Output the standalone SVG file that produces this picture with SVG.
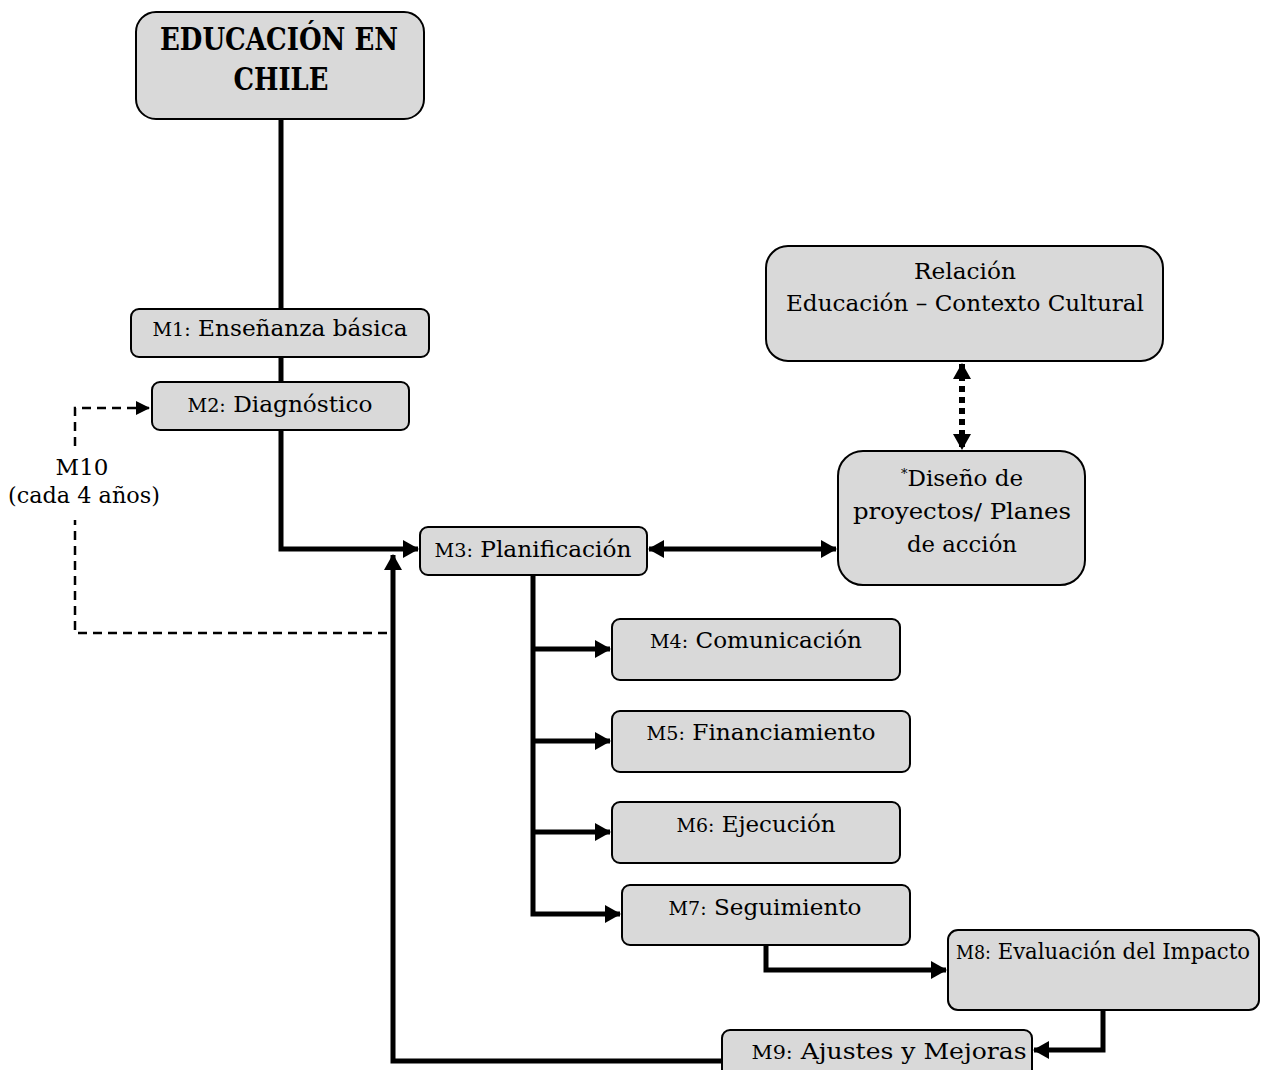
<svg xmlns="http://www.w3.org/2000/svg" width="1264" height="1070" viewBox="0 0 1264 1070">
<style>
.box{fill:#d9d9d9;stroke:#000;stroke-width:2}
.t{font-family:"DejaVu Serif","Liberation Serif",serif;font-size:23px;fill:#000;text-anchor:middle}
.p{font-size:19px}
.title{font-family:"DejaVu Serif Condensed","DejaVu Serif","Liberation Serif",serif;font-size:31px;font-weight:bold;text-anchor:middle}
.c{fill:none;stroke:#000;stroke-width:5}
.d{fill:none;stroke:#000;stroke-width:2.5;stroke-dasharray:9 6}
.dot{fill:none;stroke:#000;stroke-width:6;stroke-dasharray:6 5}
</style>
<defs>
<marker id="a" markerUnits="userSpaceOnUse" markerWidth="16" markerHeight="18" refX="15" refY="9" orient="auto-start-reverse">
<path d="M0,0 L16,9 L0,18 Z" fill="#000"/>
</marker>
<marker id="s" markerUnits="userSpaceOnUse" markerWidth="14" markerHeight="14" refX="13" refY="7" orient="auto-start-reverse">
<path d="M0,0 L14,7 L0,14 Z" fill="#000"/>
</marker>
</defs>
<g id="connectors">
<path class="c" d="M281,119 V310"/>
<path class="c" d="M281,357 V383"/>
<path class="c" d="M281,430 V549 H418" marker-end="url(#a)"/>
<path class="c" d="M649,549 H836" marker-start="url(#a)" marker-end="url(#a)"/>
<path class="dot" d="M962,364 V449" marker-start="url(#a)" marker-end="url(#a)"/>
<path class="c" d="M533,575 V914 H620" marker-end="url(#a)"/>
<path class="c" d="M533,649 H610" marker-end="url(#a)"/>
<path class="c" d="M533,741 H610" marker-end="url(#a)"/>
<path class="c" d="M533,832 H610" marker-end="url(#a)"/>
<path class="c" d="M766,945 V970 H946" marker-end="url(#a)"/>
<path class="c" d="M1103,1010 V1050 H1034" marker-end="url(#a)"/>
<path class="c" d="M722,1061 H393 V555" marker-end="url(#a)"/>
<path class="d" d="M387,633 H75 V520"/>
<path class="d" d="M75,446 V408 H149" marker-end="url(#s)"/>
<path d="M153,410 L168,413 L158,422 Z" fill="#000"/>
</g>
<g id="n-title">
<rect class="box" x="136" y="12" width="288" height="107" rx="20"/>
<text class="title" x="279" y="50" textLength="238" lengthAdjust="spacingAndGlyphs">EDUCACIÓN EN</text>
<text class="title" x="281" y="90" textLength="95" lengthAdjust="spacingAndGlyphs">CHILE</text>
</g>
<g id="n-m1">
<rect class="box" x="131" y="309" width="298" height="48" rx="8"/>
<text class="t" x="280" y="336" textLength="255" lengthAdjust="spacingAndGlyphs"><tspan class="p">M1:</tspan> Enseñanza básica</text>
</g>
<g id="n-m2">
<rect class="box" x="152" y="382" width="257" height="48" rx="8"/>
<text class="t" x="280" y="412" textLength="185" lengthAdjust="spacingAndGlyphs"><tspan class="p">M2:</tspan> Diagnóstico</text>
</g>
<g id="n-m3">
<rect class="box" x="420" y="527" width="227" height="48" rx="8"/>
<text class="t" x="533" y="557" textLength="197" lengthAdjust="spacingAndGlyphs"><tspan class="p">M3:</tspan> Planificación</text>
</g>
<g id="n-relacion">
<rect class="box" x="766" y="246" width="397" height="115" rx="22"/>
<text class="t" x="965" y="279" textLength="102" lengthAdjust="spacingAndGlyphs">Relación</text>
<text class="t" x="965" y="311" textLength="358" lengthAdjust="spacingAndGlyphs">Educación – Contexto Cultural</text>
</g>
<g id="n-diseno">
<rect class="box" x="838" y="451" width="247" height="134" rx="25"/>
<text class="t" x="962" y="486"><tspan font-size="13" dy="-8">*</tspan><tspan dy="8">Diseño de</tspan></text>
<text class="t" x="962" y="519" textLength="218" lengthAdjust="spacingAndGlyphs">proyectos/ Planes</text>
<text class="t" x="962" y="552" textLength="110" lengthAdjust="spacingAndGlyphs">de acción</text>
</g>
<g id="n-m4">
<rect class="box" x="612" y="619" width="288" height="61" rx="8"/>
<text class="t" x="756" y="648" textLength="212" lengthAdjust="spacingAndGlyphs"><tspan class="p">M4:</tspan> Comunicación</text>
</g>
<g id="n-m5">
<rect class="box" x="612" y="711" width="298" height="61" rx="8"/>
<text class="t" x="761" y="740" textLength="229" lengthAdjust="spacingAndGlyphs"><tspan class="p">M5:</tspan> Financiamiento</text>
</g>
<g id="n-m6">
<rect class="box" x="612" y="802" width="288" height="61" rx="8"/>
<text class="t" x="756" y="832" textLength="159" lengthAdjust="spacingAndGlyphs"><tspan class="p">M6:</tspan> Ejecución</text>
</g>
<g id="n-m7">
<rect class="box" x="622" y="885" width="288" height="60" rx="8"/>
<text class="t" x="765" y="915" textLength="193" lengthAdjust="spacingAndGlyphs"><tspan class="p">M7:</tspan> Seguimiento</text>
</g>
<g id="n-m8">
<rect class="box" x="948" y="930" width="311" height="80" rx="10"/>
<text class="t" x="1103" y="959" font-size="24" textLength="294" lengthAdjust="spacingAndGlyphs"><tspan class="p">M8:</tspan> Evaluación del Impacto</text>
</g>
<g id="n-m9">
<rect class="box" x="722" y="1030" width="310" height="48" rx="8"/>
<text class="t" x="889" y="1059" font-size="25" textLength="275" lengthAdjust="spacingAndGlyphs"><tspan class="p">M9:</tspan> Ajustes y Mejoras</text>
</g>
<g id="label-m10">
<text class="t" x="82" y="475">M10</text>
<text class="t" x="84" y="503" textLength="152" lengthAdjust="spacingAndGlyphs">(cada 4 años)</text>
</g>
</svg>
